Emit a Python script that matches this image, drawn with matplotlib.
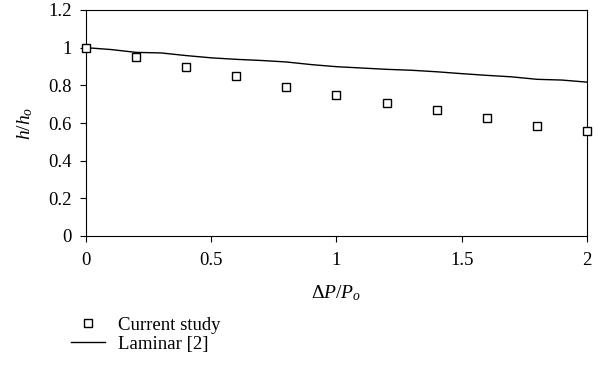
import matplotlib
matplotlib.use("Agg")
import matplotlib.pyplot as plt

plt.rcParams['font.family'] = ['Liberation Serif', 'DejaVu Serif']
plt.rcParams['mathtext.fontset'] = 'custom'
plt.rcParams['mathtext.rm'] = 'Liberation Serif'
plt.rcParams['mathtext.it'] = 'Liberation Serif:italic'
plt.rcParams['mathtext.bf'] = 'Liberation Serif:bold'

# Data
study_x = [0, 0.2, 0.4, 0.6, 0.8, 1.0, 1.2, 1.4, 1.6, 1.8, 2.0]
study_y = [1.0, 0.952, 0.897, 0.848, 0.792, 0.751, 0.706, 0.667, 0.624, 0.585, 0.558]
laminar_x = [0, 0.1, 0.2, 0.3, 0.4, 0.5, 0.6, 0.7, 0.8, 0.9, 1.0, 1.1, 1.2, 1.3, 1.4, 1.5, 1.6, 1.7, 1.8, 1.9, 2.0]
laminar_y = [1.0, 0.99, 0.975, 0.972, 0.958, 0.946, 0.938, 0.932, 0.924, 0.91, 0.899, 0.892, 0.885, 0.88, 0.872, 0.862, 0.853, 0.845, 0.832, 0.828, 0.817]

fig = plt.figure(figsize=(6.02, 3.76), dpi=100)
ax = fig.add_axes([86/602, 1-236/376, (587-86)/602, (236-10)/376])

sc, = ax.plot(study_x, study_y, linestyle='none', marker='s', markersize=6.3,
              markerfacecolor='white', markeredgecolor='black', markeredgewidth=1.0,
              label='Current study', zorder=3, clip_on=False)
ln, = ax.plot(laminar_x, laminar_y, color='black', linewidth=1.0, label='Laminar [2]')

ax.set_xlim(0, 2)
ax.set_ylim(0, 1.2)
ax.set_xticks([0, 0.5, 1, 1.5, 2])
ax.set_xticklabels(['0', '0.5', '1', '1.5', '2'])
ax.set_yticks([0, 0.2, 0.4, 0.6, 0.8, 1.0, 1.2])
ax.set_yticklabels(['0', '0.2', '0.4', '0.6', '0.8', '1', '1.2'])
ax.tick_params(direction='out', length=4, width=0.8, labelsize=13.5, pad=6)
ax.tick_params(axis='x', pad=7.5)
for s in ax.spines.values():
    s.set_linewidth(0.8)

ax.set_xlabel(r'$\Delta P/P_o$', fontsize=14, labelpad=10)
ax.set_ylabel(r'$h/h_o$', fontsize=14, labelpad=10)

fig.legend(handles=[sc, ln], loc='upper left', bbox_to_anchor=(62/602, 1-307/376),
           frameon=False, fontsize=13.5, handlelength=1.8, handletextpad=0.7,
           labelspacing=0.1, borderpad=0)

fig.savefig('out.png', dpi=100)
